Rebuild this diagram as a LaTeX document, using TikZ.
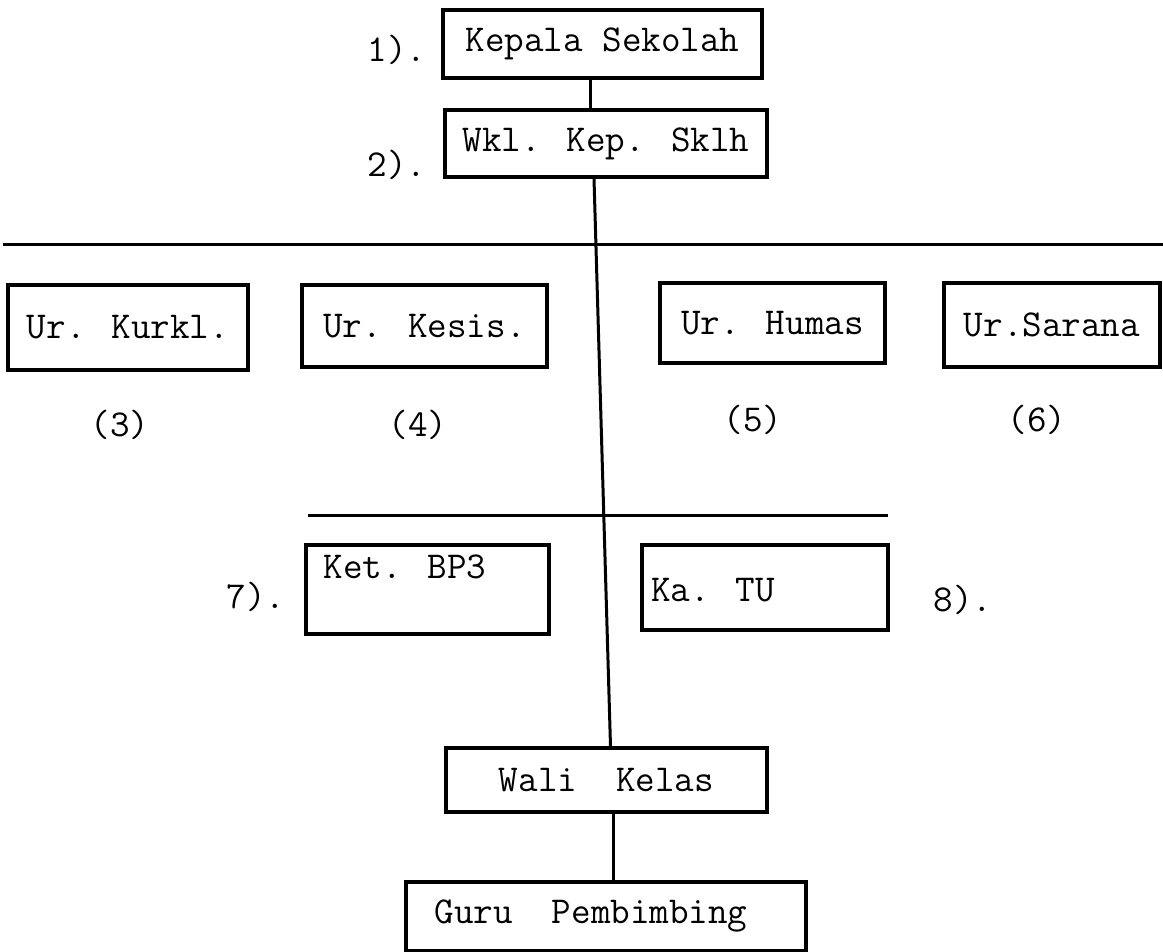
\documentclass[tikz,border=0pt]{standalone}
\usepackage{fontspec}
\begin{document}
\begin{tikzpicture}[x=1pt,y=-1pt,
  every node/.style={font=\fontsize{38}{42}\selectfont\ttfamily, inner sep=0pt},
  box/.style={draw, line width=3.2pt},
  ln/.style={line width=3pt}]
\useasboundingbox (0,0) rectangle (1163,952);
\fill[white] (0,0) rectangle (1163,952);
% boxes
\node[box, minimum width=319pt, minimum height=68pt] (kep) at (602.5,44) {Kepala Sekolah};
\node[box, minimum width=322pt, minimum height=67pt] (wkl) at (606,143.5) {Wkl. Kep. Sklh};
\node[box, minimum width=240pt, minimum height=85pt] (kur) at (128,327.5) {Ur. Kurkl.};
\node[box, minimum width=245pt, minimum height=82pt] (kes) at (424.5,326) {Ur. Kesis.};
\node[box, minimum width=225pt, minimum height=80pt] (hum) at (772.5,323) {Ur. Humas};
\node[box, minimum width=216pt, minimum height=84pt] (sar) at (1052,325) {Ur.Sarana};
\node[box, minimum width=243pt, minimum height=89pt] (ket) at (427.5,589.5) {};
\node (kett) at (405,567) {Ket. BP3};
\node[box, minimum width=246pt, minimum height=85pt] (katu) at (765,587.5) {};
\node (katut) at (713,590) {Ka. TU};
\node[box, minimum width=321pt, minimum height=64pt] (wali) at (606.5,780) {Wali~~Kelas};
\node[box, minimum width=400pt, minimum height=69pt] (guru) at (606,916.5) {Guru~~Pembimbing\kern30pt};
% number labels
\node (n1) at (397,50) {1).};
\node (n2) at (397,165) {2).};
\node (n3) at (120,425) {(3)};
\node (n4) at (418,425) {(4)};
\node (n5) at (753,420) {(5)};
\node (n6) at (1037,420) {(6)};
\node (n7) at (256,597) {7).};
\node (n8) at (963,600) {8).};
% connectors
\draw[ln] ([xshift=-12.5pt]kep.south) -- ([xshift=-16pt]wkl.north);
\draw[ln] ([xshift=-12pt]wkl.south) -- ([xshift=4pt]wali.north);
\draw[ln] ([xshift=7pt]wali.south) -- ([xshift=7.5pt]guru.north);
% horizontal bars
\coordinate (h1a) at (3,245);
\coordinate (h1b) at (1163,245);
\coordinate (h2a) at (308,515);
\coordinate (h2b) at (888,515);
\draw[ln] (h1a) -- (h1b);
\draw[ln] (h2a) -- (h2b);
\end{tikzpicture}
\end{document}
